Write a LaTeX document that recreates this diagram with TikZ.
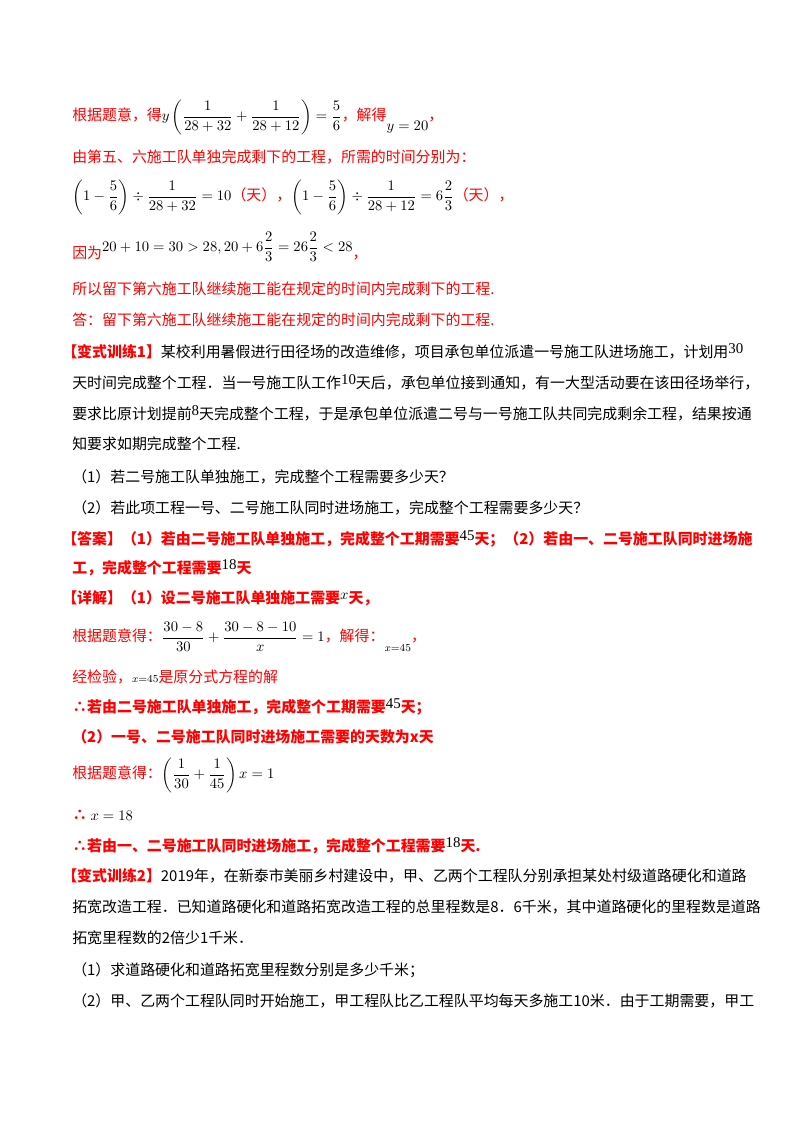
\documentclass[tikz,border=0pt]{standalone}
\usepackage{fontspec}
\usepackage{amsmath}
\setmainfont{Noto Sans CJK SC}
\newfontfamily\tnr{Liberation Serif}
\definecolor{rd}{HTML}{FF0000}
\newcommand{\mm}[1]{{\color{black}$#1$}}
\tikzset{ln/.style={anchor=west,inner sep=0pt,font=\fontsize{11.2pt}{12pt}\selectfont}, rl/.style={ln,text=rd}, bl/.style={ln,text=black}}
\begin{document}
\begin{tikzpicture}[x=0.75pt,y=-0.75pt]
\useasboundingbox[fill=white] (0,0) rectangle (800,1132);
\node[rl] (l1) at (72,117) {根据题意，得\mm{y\left(\dfrac{1}{28+32}+\dfrac{1}{28+12}\right)=\dfrac{5}{6}}，解得\raisebox{-1.2ex}{\mm{y=20}}，};
\node[rl] (l2) at (72,157) {由第五、六施工队单独完成剩下的工程，所需的时间分别为：};
\node[rl] (l3) at (72,197) {\mm{\left(1-\dfrac{5}{6}\right)\div\dfrac{1}{28+32}=10}（天），\mm{\left(1-\dfrac{5}{6}\right)\div\dfrac{1}{28+12}=6\dfrac{2}{3}}（天），};
\node[rl] (l4) at (72,247) {因为\raisebox{0.8ex}{\mm{20+10=30>28,20+6\dfrac{2}{3}=26\dfrac{2}{3}<28}}，};
\node[rl] (l5) at (72,289) {所以留下第六施工队继续施工能在规定的时间内完成剩下的工程.};
\node[rl] (l6) at (72,320) {答：留下第六施工队继续施工能在规定的时间内完成剩下的工程.};
\node[bl] (l7) at (62,351) {\textbf{\color{rd}【变式训练1】}某校利用暑假进行田径场的改造维修，项目承包单位派遣一号施工队进场施工，计划用\raisebox{0.5ex}{\tnr 30}};
\node[bl] (l8) at (72,382) {天时间完成整个工程．当一号施工队工作\raisebox{0.5ex}{\tnr 10}天后，承包单位接到通知，有一大型活动要在该田径场举行，};
\node[bl] (l9) at (72,413) {要求比原计划提前\raisebox{0.5ex}{\tnr 8}天完成整个工程，于是承包单位派遣二号与一号施工队共同完成剩余工程，结果按通};
\node[bl] (l10) at (72,444) {知要求如期完成整个工程.};
\node[bl] (l11) at (72,477) {（1）若二号施工队单独施工，完成整个工程需要多少天？};
\node[bl] (l12) at (72,508) {（2）若此项工程一号、二号施工队同时进场施工，完成整个工程需要多少天？};
\node[rl] (l13) at (62,539) {\textbf{【答案】（1）若由二号施工队单独施工，完成整个工期需要\raisebox{0.5ex}{\color{black}\mdseries\tnr 45}天；（2）若由一、二号施工队同时进场施}};
\node[rl] (l14) at (72,568) {\textbf{工，完成整个工程需要\raisebox{0.5ex}{\color{black}\mdseries\tnr 18}天}};
\node[rl] (l15) at (62,598) {\textbf{【详解】（1）设二号施工队单独施工需要\raisebox{0.5ex}{\mm{x}}天，}};
\node[rl] (l16) at (72,637) {根据题意得：\mm{\dfrac{30-8}{30}+\dfrac{30-8-10}{x}=1}，解得：\raisebox{-1.2ex}{\mm{\scriptstyle x=45}}，};
\node[rl] (l17) at (72,677) {经检验，\mm{\scriptstyle x=45}是原分式方程的解};
\node[rl] (l18) at (72,707) {\textbf{∴若由二号施工队单独施工，完成整个工期需要\raisebox{0.5ex}{\color{black}\mdseries\tnr 45}天；}};
\node[rl] (l19) at (72,737) {\textbf{（2）一号、二号施工队同时进场施工需要的天数为x天}};
\node[rl] (l20) at (72,775) {根据题意得：\mm{\left(\dfrac{1}{30}+\dfrac{1}{45}\right)x=1}};
\node[rl] (l21) at (72,815) {\textbf{∴} \mm{x=18}};
\node[rl] (l22) at (72,846) {\textbf{∴若由一、二号施工队同时进场施工，完成整个工程需要\raisebox{0.5ex}{\color{black}\mdseries\tnr 18}天.}};
\node[bl] (l23) at (62,876) {\textbf{\color{rd}【变式训练2】}2019年，在新泰市美丽乡村建设中，甲、乙两个工程队分别承担某处村级道路硬化和道路};
\node[bl] (l24) at (72,907) {拓宽改造工程．已知道路硬化和道路拓宽改造工程的总里程数是8．6千米，其中道路硬化的里程数是道路};
\node[bl] (l25) at (72,938) {拓宽里程数的2倍少1千米．};
\node[bl] (l26) at (72,970) {（1）求道路硬化和道路拓宽里程数分别是多少千米；};
\node[bl] (l27) at (72,1001) {（2）甲、乙两个工程队同时开始施工，甲工程队比乙工程队平均每天多施工10米．由于工期需要，甲工};
\end{tikzpicture}
\end{document}
